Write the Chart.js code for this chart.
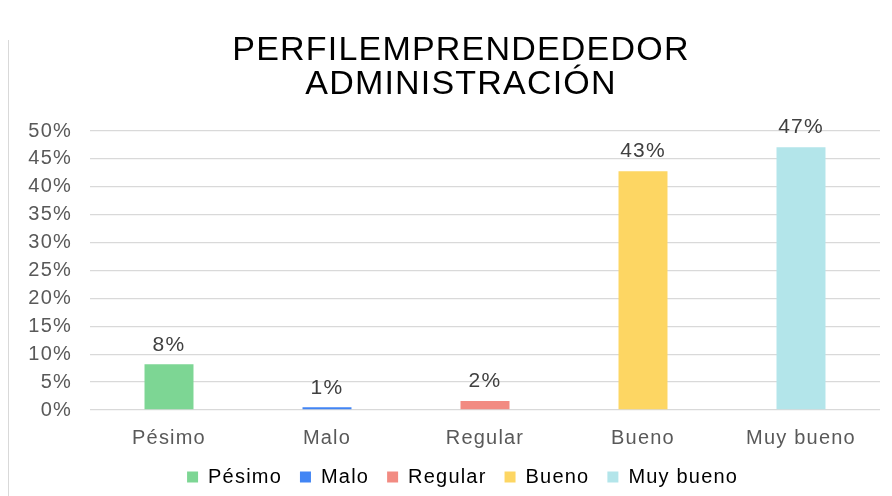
<!DOCTYPE html>
<html lang="es">
<head>
    <meta charset="UTF-8">
    <title>Perfil emprendededor administración</title>
    <script src="https://cdn.jsdelivr.net/npm/chart.js"></script>
    <style>
        body { margin: 0; background: #fff; }
        .wrap { position: relative; width: 892px; height: 496px; overflow: hidden; }
        .wrap:before { content: ""; position: absolute; left: 8px; top: 40px; bottom: 0; border-left: 1px solid #d9d9d9; }
    </style>
</head>
<body>
    <div class="wrap">
        <canvas id="perfilChart" width="892" height="496"></canvas>
    </div>

    <script>
        // data
        const categories = ['Pésimo', 'Malo', 'Regular', 'Bueno', 'Muy bueno'];
        const values = [8.2, 0.5, 1.6, 42.8, 47.1];
        const valueLabels = ['8%', '1%', '2%', '43%', '47%'];
        const barColors = ['#7dd694', '#4285f4', '#f28b82', '#fdd663', '#b3e5ea'];
        const titleLines = ['PERFILEMPRENDEDEDOR', 'ADMINISTRACIÓN'];

        const FONT = "'Liberation Sans', Arial, sans-serif";

        // text in the original is a bit wider than plain Arial
        const spacingPlugin = {
            id: 'spacing',
            beforeDraw(chart) { chart.ctx.letterSpacing = '1.2px'; }
        };

        // nudge title right and legend up a little, like the original
        const nudgePlugin = {
            id: 'nudge',
            afterLayout(chart) {
                chart.titleBlock.left += 17;
                chart.titleBlock.right += 17;
                chart.legend.top -= 9;
                chart.legend.bottom -= 9;
            }
        };

        // value labels above each bar
        const valueLabelPlugin = {
            id: 'valueLabels',
            afterDatasetsDraw(chart) {
                const ctx = chart.ctx;
                const meta = chart.getDatasetMeta(0);
                ctx.save();
                ctx.font = '21px ' + FONT;
                ctx.fillStyle = '#404040';
                ctx.textAlign = 'center';
                ctx.textBaseline = 'bottom';
                meta.data.forEach((bar, i) => {
                    ctx.fillText(valueLabels[i], bar.x, bar.y - 9);
                });
                ctx.restore();
            }
        };

        new Chart(document.getElementById('perfilChart'), {
            type: 'bar',
            data: {
                labels: categories,
                datasets: [{
                    data: values,
                    backgroundColor: barColors,
                    barPercentage: 0.31,
                    categoryPercentage: 1
                }]
            },
            options: {
                responsive: false,
                animation: false,
                layout: { padding: { left: 8, right: 12, top: 34, bottom: -10 } },
                plugins: {
                    title: {
                        display: true,
                        text: titleLines,
                        color: '#000',
                        font: { family: FONT, size: 34, weight: 'normal', lineHeight: 1.0 },
                        padding: { top: 0, bottom: 29 }
                    },
                    legend: {
                        position: 'bottom',
                        labels: {
                            boxWidth: 11,
                            boxHeight: 11,
                            padding: 18,
                            color: '#595959',
                            font: { family: FONT, size: 20 },
                            generateLabels: () => categories.map((c, i) => ({
                                text: c,
                                fillStyle: barColors[i],
                                strokeStyle: barColors[i],
                                lineWidth: 0,
                                index: i
                            }))
                        }
                    },
                    tooltip: { enabled: false }
                },
                scales: {
                    x: {
                        grid: { display: false },
                        border: { display: false },
                        ticks: { color: '#595959', font: { family: FONT, size: 20 }, padding: 8 }
                    },
                    y: {
                        min: 0,
                        max: 50,
                        ticks: {
                            stepSize: 5,
                            color: '#595959',
                            font: { family: FONT, size: 20 },
                            padding: 18,
                            callback: v => v + '%'
                        },
                        grid: { color: '#d9d9d9', lineWidth: 1.3, drawTicks: false },
                        border: { display: false },
                        afterFit: s => { s.width = 82; }
                    }
                }
            },
            plugins: [spacingPlugin, nudgePlugin, valueLabelPlugin]
        });
    </script>
</body>
</html>
